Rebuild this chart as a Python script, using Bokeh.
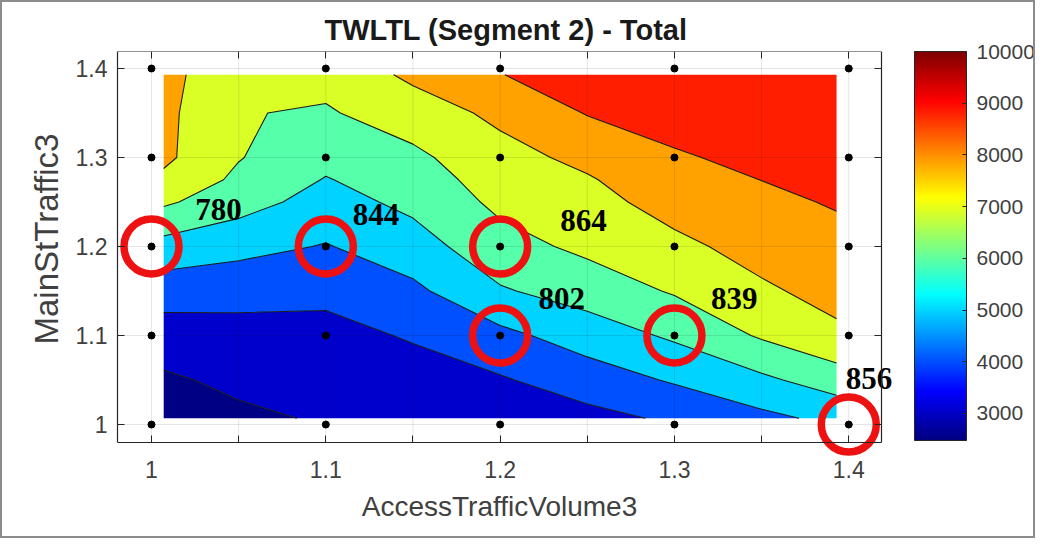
import numpy as np
from bokeh.plotting import figure
from bokeh.models import (Range1d, FixedTicker, LinearAxis, ColorBar, Title,
                          LinearColorMapper, CustomJSTickFormatter)
from bokeh.core.properties import value
from bokeh.embed import file_html
from bokeh.resources import INLINE

# ---------------- data ----------------
x_grid = [1.007, 1.05, 1.1, 1.15, 1.2, 1.25, 1.3, 1.35, 1.393]
y_grid = [1.007, 1.05, 1.1, 1.15, 1.2, 1.25, 1.275, 1.3, 1.35, 1.393]
z_rows = [
    [2480, 2800, 3100, 3250, 3300, 3700, 4150, 4750, 5250],
    [2850, 3217, 3369, 3621, 3900, 4500, 5106, 5800, 6500],
    [3520, 3650, 3720, 4084, 4741, 5462, 6157, 7118, 7809],
    [4450, 4333, 4217, 4784, 5897, 6449, 7095, 7853, 8313],
    [5640, 5314, 4942, 5562, 6648, 7213, 7770, 8351, 8695],
    [7154, 6400, 5613, 6247, 7221, 7676, 8371, 8789, 9080],
    [7795, 6800, 5947, 6516, 7442, 7907, 8652, 9010, 9190],
    [8200, 7050, 6284, 6785, 7664, 8246, 8933, 9150, 9300],
    [8250, 7050, 6900, 7500, 8222, 9050, 9250, 9400, 9550],
    [8150, 7650, 7300, 8200, 8980, 9350, 9500, 9650, 9800],
]
levels = [2450, 3000, 4000, 5000, 6000, 7000, 8000, 9000, 10000]
c_low, c_high = 2476, 10000

sample_x = [1.0, 1.1, 1.2, 1.3, 1.4]
sample_y = [1.0, 1.1, 1.2, 1.3, 1.4]

hl_x = [1.0, 1.1, 1.2, 1.2, 1.3, 1.4]
hl_y = [1.2, 1.2, 1.2, 1.1, 1.1, 1.0]

lab_text = ["780", "844", "864", "802", "839", "856"]
lab_x = [1.0385, 1.1288, 1.2478, 1.2353, 1.3343, 1.4116]
lab_y = [1.2416, 1.2360, 1.2290, 1.1416, 1.1416, 1.0517]

x_major = [1.0, 1.1, 1.2, 1.3, 1.4]
x_minor = [1.05, 1.15, 1.25, 1.35]
y_major = [1.0, 1.1, 1.2, 1.3, 1.4]
cb_ticks = [3000, 4000, 5000, 6000, 7000, 8000, 9000, 10000]

# axes box (data limits)
box_x = (0.9805, 1.4188)
box_y = (0.9798, 1.4191)


# ---------------- styling helpers ----------------
def jet(t):
    t = min(max(t, 0.0), 1.0)
    r = min(max(1.5 - abs(4 * t - 3), 0.0), 1.0)
    g = min(max(1.5 - abs(4 * t - 2), 0.0), 1.0)
    b = min(max(1.5 - abs(4 * t - 1), 0.0), 1.0)
    return "#%02x%02x%02x" % (int(round(r * 255)), int(round(g * 255)), int(round(b * 255)))


jet256 = [jet(i / 255) for i in range(256)]
# band fill colours (lower level of each band on the jet map, as in the picture)
band_lo, band_hi = 2415, 10215
band_colors = [jet((lv - band_lo) / (band_hi - band_lo)) for lv in levels[:-1]]

FONT = "Liberation Sans"
TXT = "#404040"
AX = "#262626"

p = figure(width=1035, height=538,
           x_range=Range1d(box_x[0], 1.4377), y_range=Range1d(0.8787, box_y[1]),
           output_backend="svg", toolbar_location=None,
           min_border_left=115, min_border_right=121,
           min_border_top=49, min_border_bottom=8)
p.styles = {"border": "2px solid #8c8c8c"}
p.outline_line_color = None

p.title.text = "TWLTL (Segment 2) - Total"
p.title.align = "left"
p.title.offset = 207
p.title.text_font = FONT
p.title.text_font_size = "29px"
p.title.text_font_style = "bold"
p.title.text_color = "#1a1a1a"
p.title.standoff = 12

# contour
z = np.array(z_rows, dtype=float)
p.contour(np.array(x_grid), np.array(y_grid), z, levels,
          fill_color=band_colors, line_color="#1a1a1a", line_width=1.1)

# faint grid over the fill, limited to the axes box
p.xgrid.visible = False
p.ygrid.visible = False
gx = sorted(x_major + x_minor)
p.segment(x0=gx, y0=[box_y[0]] * len(gx), x1=gx, y1=[box_y[1]] * len(gx),
          line_color="black", line_alpha=0.1, line_width=1)
p.segment(x0=[box_x[0]] * len(y_major), y0=y_major, x1=[box_x[1]] * len(y_major), y1=y_major,
          line_color="black", line_alpha=0.1, line_width=1)

# axes
fmt = CustomJSTickFormatter(code="return String(Math.round(tick*10)/10);")


def style_axis(ax):
    ax.major_tick_in = 7
    ax.major_tick_out = 0
    ax.minor_tick_in = 7
    ax.minor_tick_out = 0
    ax.axis_line_color = AX
    ax.axis_line_width = 1.2
    ax.major_tick_line_color = AX
    ax.minor_tick_line_color = AX
    ax.major_label_text_font = FONT
    ax.major_label_text_color = TXT
    ax.axis_label_text_font = FONT
    ax.axis_label_text_font_style = "normal"
    ax.axis_label_text_color = TXT
    ax.formatter = fmt


xa = p.xaxis[0]
ya = p.yaxis[0]
style_axis(xa)
style_axis(ya)
xa.ticker = FixedTicker(ticks=x_major, minor_ticks=x_minor)
ya.ticker = FixedTicker(ticks=y_major, minor_ticks=[])
xa.fixed_location = box_y[0]
xa.bounds = box_x
ya.bounds = box_y
xa.axis_label = "AccessTrafficVolume3"
xa.major_label_text_font_size = "23px"
ya.major_label_text_font_size = "23px"
xa.axis_label_text_font_size = "28px"
xa.major_label_standoff = 18
ya.major_label_standoff = 10
xa.axis_label_standoff = 10

# y axis title placed in the left panel, centred on the axes box
ytitle = Title(text="MainStTraffic3", align="left", offset=188,
               text_font=FONT, text_font_size="33px", text_font_style="normal",
               text_color=TXT, standoff=16)
p.add_layout(ytitle, "left")

top_ax = LinearAxis(ticker=FixedTicker(ticks=x_major, minor_ticks=x_minor),
                    major_label_text_font_size="0px", major_label_standoff=0,
                    bounds=box_x, fixed_location=box_y[1])
right_ax = LinearAxis(ticker=FixedTicker(ticks=y_major, minor_ticks=[]),
                      major_label_text_font_size="0px", major_label_standoff=0,
                      bounds=box_y, fixed_location=box_x[1])
for a in (top_ax, right_ax):
    style_axis(a)
    a.major_label_text_font_size = "0px"
    a.major_label_text_color = None
p.add_layout(top_ax, "above")
p.add_layout(right_ax, "right")

# sample points
px = [xv for yv in sample_y for xv in sample_x]
py = [yv for yv in sample_y for xv in sample_x]
p.scatter(px, py, size=7, color="black")

# highlight circles
p.scatter(hl_x, hl_y, size=55, fill_color=None, line_color="#ee1111", line_width=7.5)

# labels
p.text(lab_x, lab_y, text=lab_text, text_font=value("Liberation Serif"),
       text_font_style="bold", text_font_size="31px", text_color="black",
       text_align="center", text_baseline="middle")

# colorbar
mapper = LinearColorMapper(palette=jet256, low=c_low, high=c_high)
cb = ColorBar(color_mapper=mapper, ticker=FixedTicker(ticks=cb_ticks),
              width=52, height=389, padding=0,
              major_label_text_font=FONT, major_label_text_font_size="21px",
              major_label_text_color=TXT, bar_line_color=AX,
              major_tick_line_color=AX, major_tick_in=4, major_tick_out=0,
              label_standoff=10, location="top")
p.add_layout(cb, "right")

open("out.html", "w").write(file_html(p, INLINE))
